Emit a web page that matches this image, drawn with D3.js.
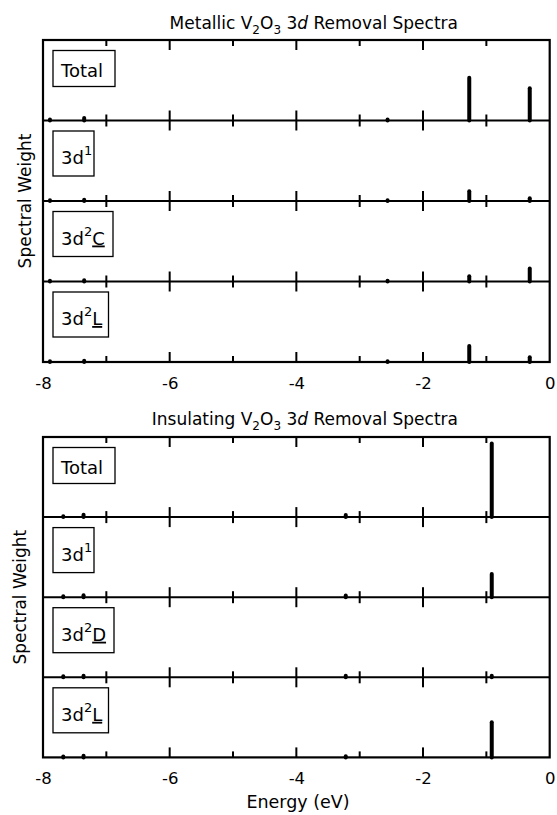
<!DOCTYPE html>
<html lang="en">
<head>
<meta charset="UTF-8">
<title>V2O3 3d removal spectra</title>
<script src="https://cdn.jsdelivr.net/npm/d3@7"></script>
<style>
    body { margin: 0; background: #fff; }
    svg text { font-family: "DejaVu Sans", sans-serif; fill: #000; white-space: pre; }
</style>
</head>
<body>
<div id="container"></div>
<script>
    // metallic phase: energies (eV) of the removal states and weights per channel
    const metallicEnergy = [-7.89, -7.35, -2.56, -1.27, -0.315];
    const metallicTotal = [0.012, 0.03, 0.012, 0.53, 0.40];
    const metallic3d1 = [0.008, 0.015, 0.008, 0.12, 0.035];
    const metallic3d2C = [0.008, 0.015, 0.008, 0.066, 0.16];
    const metallic3d2L = [0.008, 0.015, 0.008, 0.20, 0.058];
    const metallicLabels = [["Total", "", ""], ["3d", "1", ""], ["3d", "2", "C"], ["3d", "2", "L"]];

    // insulating phase
    const insulatingEnergy = [-7.68, -7.36, -3.22, -0.915];
    const insulatingTotal = [0.012, 0.03, 0.025, 0.92];
    const insulating3d1 = [0.012, 0.025, 0.02, 0.29];
    const insulating3d2D = [0.012, 0.02, 0.02, 0.02];
    const insulating3d2L = [0.012, 0.02, 0.015, 0.44];
    const insulatingLabels = [["Total", "", ""], ["3d", "1", ""], ["3d", "2", "D"], ["3d", "2", "L"]];

    const tickLabels = [-8, -6, -4, -2, 0];
    const majorTicks = [-6, -4, -2];
    const minorTicks = [-7, -5, -3, -1];

    const width = 557, height = 815;
    const svg = d3.select("#container").append("svg")
        .attr("width", width)
        .attr("height", height);

    const x = d3.scaleLinear().domain([-8, 0]).range([43, 549.7]);

    function drawTitle(yBase, word) {
        const t = svg.append("text")
            .attr("x", 458)
            .attr("y", yBase)
            .attr("text-anchor", "end")
            .style("font-size", "17px");
        t.append("tspan").text(word + " V");
        t.append("tspan").attr("dy", 5).style("font-size", "12px").text("2");
        t.append("tspan").attr("dy", -5).text("O");
        t.append("tspan").attr("dy", 5).style("font-size", "12px").text("3");
        t.append("tspan").attr("dy", -5).text(" 3");
        t.append("tspan").style("font-style", "italic").text("d");
        t.append("tspan").text(" Removal Spectra");
    }

    // boxed channel label, e.g. 3d² with an underlined C/L/D
    function drawLabel(g, panelTop, parts, w) {
        const [base, sup, under] = parts;
        const boxTop = panelTop + 10.5;
        const h = sup ? 45 : 36;
        g.append("rect")
            .attr("x", 53).attr("y", boxTop)
            .attr("width", w).attr("height", h)
            .attr("fill", "#fff")
            .attr("stroke", "#000")
            .attr("stroke-width", 1.3);
        const t = g.append("text")
            .attr("x", 61)
            .attr("y", boxTop + (sup ? 33 : 26.5))
            .style("font-size", "18px");
        t.append("tspan").text(base);
        if (sup) t.append("tspan").attr("dy", -9).style("font-size", "13px").text(sup);
        if (under) t.append("tspan").attr("dy", 9).style("text-decoration", "underline").text(under);
    }

    function drawChart(top, panelH, energy, series, labels, boxW, yLabelX) {
        const g = svg.append("g");
        const bottom = top + panelH * series.length;

        series.forEach((vals, i) => {
            const panelTop = top + i * panelH;
            const base = panelTop + panelH;
            const y = d3.scaleLinear().domain([0, 1]).range([base, panelTop]);

            // ticks hang from each panel top and stand on each baseline
            [[majorTicks, 10], [minorTicks, 6]].forEach(([tv, len]) => {
                g.selectAll(null).data(tv).join("line")
                    .attr("x1", d => x(d)).attr("x2", d => x(d))
                    .attr("y1", panelTop).attr("y2", panelTop + len)
                    .attr("stroke", "#000").attr("stroke-width", 2);
                g.selectAll(null).data(tv).join("line")
                    .attr("x1", d => x(d)).attr("x2", d => x(d))
                    .attr("y1", base).attr("y2", base - len)
                    .attr("stroke", "#000").attr("stroke-width", 2);
            });

            if (i > 0) {
                g.append("line")
                    .attr("x1", x(-8)).attr("x2", x(0))
                    .attr("y1", panelTop).attr("y2", panelTop)
                    .attr("stroke", "#000").attr("stroke-width", 2);
            }

            g.selectAll(null).data(vals).join("line")
                .attr("x1", (d, j) => x(energy[j]))
                .attr("x2", (d, j) => x(energy[j]))
                .attr("y1", y(0))
                .attr("y2", d => y(d))
                .attr("stroke", "#000")
                .attr("stroke-width", 4)
                .attr("stroke-linecap", "round");

            drawLabel(g, panelTop, labels[i], boxW[i]);
        });

        g.append("rect")
            .attr("x", x(-8)).attr("y", top)
            .attr("width", x(0) - x(-8)).attr("height", bottom - top)
            .attr("fill", "none")
            .attr("stroke", "#000")
            .attr("stroke-width", 2.2);

        const ax = g.append("g")
            .attr("transform", `translate(0,${bottom})`)
            .call(d3.axisBottom(x).tickValues(tickLabels).tickSize(0).tickPadding(15).tickFormat(d => String(d)));
        ax.select(".domain").remove();
        ax.selectAll("text").style("font-size", "16.5px").style("font-family", "DejaVu Sans");

        svg.append("text")
            .attr("transform", `translate(${yLabelX},${(top + bottom) / 2}) rotate(-90)`)
            .attr("text-anchor", "middle")
            .style("font-size", "17px")
            .text("Spectral Weight");
    }

    drawTitle(29.3, "Metallic");
    drawChart(40, 80.5, metallicEnergy,
        [metallicTotal, metallic3d1, metallic3d2C, metallic3d2L],
        metallicLabels, [62, 41, 60, 55.5], 31);

    drawTitle(425, "Insulating");
    drawChart(437, 80.1, insulatingEnergy,
        [insulatingTotal, insulating3d1, insulating3d2D, insulating3d2L],
        insulatingLabels, [62, 41, 61, 55.5], 25.5);

    svg.append("text")
        .attr("x", 298)
        .attr("y", 808)
        .attr("text-anchor", "middle")
        .style("font-size", "17.5px")
        .text("Energy (eV)");
</script>
</body>
</html>
